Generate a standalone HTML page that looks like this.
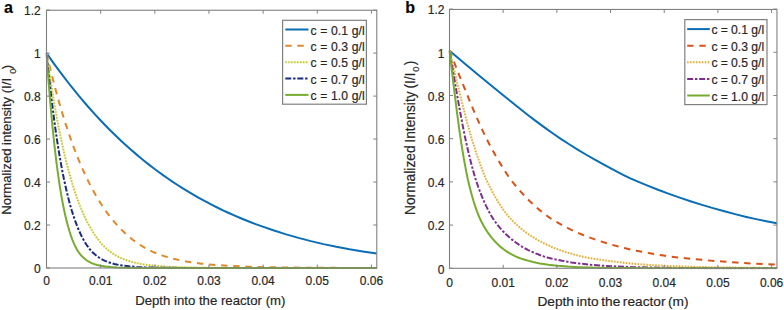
<!DOCTYPE html>
<html><head><meta charset="utf-8"><style>
html,body{margin:0;padding:0;background:#fff;}
svg{display:block;}
text{font-family:"Liberation Sans",sans-serif;fill:#262626;stroke:#262626;stroke-width:0.18px;}
.t{font-size:12px;}
.al{font-size:13.2px;}
.sub{font-size:9.3px;}
.lg{font-size:12.2px;word-spacing:0.3px;}
.lg2{font-size:12.2px;word-spacing:-0.2px;}
.pl{font-size:16px;font-weight:bold;fill:#000;}
</style></head><body>
<svg width="784" height="310" viewBox="0 0 784 310">
<rect width="784" height="310" fill="#fff"/>
<defs><clipPath id="ca"><rect x="45.5" y="10.120000000000005" width="331.315" height="258.88"/></clipPath>
<clipPath id="cb"><rect x="448.5" y="9.100000000000023" width="328.448" height="260.2"/></clipPath></defs>
<g clip-path="url(#ca)"><path d="M46.50,53.10 L54.43,64.33 L62.47,75.21 L70.62,85.75 L78.88,95.92 L87.25,105.74 L95.67,115.15 L99.96,119.76 L104.26,124.26 L108.61,128.70 L112.96,133.02 L117.36,137.27 L121.77,141.42 L126.23,145.50 L130.69,149.47 L135.20,153.38 L139.77,157.22 L144.34,160.95 L148.97,164.62 L153.65,168.23 L158.33,171.72 L163.07,175.15 L167.86,178.51 L172.70,181.81 L177.55,185.00 L182.45,188.12 L187.40,191.17 L192.41,194.16 L197.48,197.08 L202.60,199.93 L207.72,202.68 L212.95,205.39 L218.18,208.00 L223.47,210.54 L228.81,213.01 L234.21,215.42 L239.66,217.76 L245.16,220.03 L250.78,222.25 L256.34,224.36 L262.01,226.42 L274.01,230.53 L286.18,234.36 L298.46,237.90 L310.91,241.14 L323.52,244.11 L336.34,246.80 L349.45,249.24 L362.83,251.42 L376.81,253.40" fill="none" stroke="#0A6DB5" stroke-width="2"/>
<path d="M46.50,53.10 L48.87,63.19 L51.24,72.87 L53.60,82.17 L56.03,91.30 L58.45,100.05 L60.93,108.62 L63.40,116.82 L65.94,124.83 L68.52,132.64 L71.11,140.08 L73.76,147.33 L76.40,154.22 L79.10,160.91 L81.85,167.39 L84.60,173.53 L87.41,179.46 L90.27,185.17 L93.14,190.57 L96.06,195.76 L99.03,200.74 L102.06,205.50 L105.09,209.97 L108.22,214.30 L111.42,218.42 L114.67,222.33 L118.03,226.09 L121.60,229.80 L125.18,233.25 L128.76,236.45 L132.40,239.43 L136.09,242.20 L139.77,244.72 L142.97,246.71 L146.16,248.53 L149.47,250.24 L152.82,251.82 L156.46,253.34 L160.31,254.80 L164.28,256.15 L168.35,257.40 L172.54,258.54 L176.83,259.58 L181.35,260.54 L186.03,261.42 L190.87,262.22 L196.16,262.97 L201.61,263.64 L207.39,264.25 L219.23,265.25 L232.55,266.05 L247.59,266.68 L264.82,267.16 L284.42,267.50 L308.04,267.73 L337.45,267.87 L376.81,267.95" fill="none" stroke="#DE8A2A" stroke-width="2" stroke-dasharray="6.4 5.72" stroke-dashoffset="0.35"/>
<path d="M46.50,53.10 L49.69,75.21 L53.00,96.05 L54.65,105.74 L56.36,115.27 L58.06,124.32 L59.82,133.18 L61.59,141.57 L63.40,149.76 L65.22,157.50 L67.09,165.01 L68.97,172.08 L70.89,178.93 L72.82,185.35 L74.80,191.54 L76.84,197.48 L78.93,203.17 L81.02,208.45 L83.17,213.49 L85.37,218.26 L87.58,222.67 L89.83,226.83 L92.26,230.95 L94.68,234.73 L97.16,238.26 L99.69,241.52 L102.22,244.46 L104.81,247.14 L107.45,249.55 L110.15,251.71 L112.96,253.66 L115.33,255.12 L117.80,256.49 L120.34,257.74 L122.98,258.90 L125.73,259.96 L128.60,260.93 L131.57,261.81 L134.71,262.61 L138.07,263.34 L141.65,264.02 L145.39,264.62 L149.41,265.16 L153.65,265.64 L158.22,266.06 L168.30,266.75 L177.93,267.18 L189.16,267.49 L202.49,267.72 L219.06,267.86 L263.44,267.98 L376.81,268.00" fill="none" stroke="#F4F2AC" stroke-width="1.8"/>
<path d="M46.50,53.10 L49.69,75.21 L53.00,96.05 L54.65,105.74 L56.36,115.27 L58.06,124.32 L59.82,133.18 L61.59,141.57 L63.40,149.76 L65.22,157.50 L67.09,165.01 L68.97,172.08 L70.89,178.93 L72.82,185.35 L74.80,191.54 L76.84,197.48 L78.93,203.17 L81.02,208.45 L83.17,213.49 L85.37,218.26 L87.58,222.67 L89.83,226.83 L92.26,230.95 L94.68,234.73 L97.16,238.26 L99.69,241.52 L102.22,244.46 L104.81,247.14 L107.45,249.55 L110.15,251.71 L112.96,253.66 L115.33,255.12 L117.80,256.49 L120.34,257.74 L122.98,258.90 L125.73,259.96 L128.60,260.93 L131.57,261.81 L134.71,262.61 L138.07,263.34 L141.65,264.02 L145.39,264.62 L149.41,265.16 L153.65,265.64 L158.22,266.06 L168.30,266.75 L177.93,267.18 L189.16,267.49 L202.49,267.72 L219.06,267.86 L263.44,267.98 L376.81,268.00" fill="none" stroke="#C2C246" stroke-width="2" stroke-dasharray="1.3 1.65" stroke-dashoffset="0"/>
<path d="M46.50,53.10 L48.98,77.03 L51.51,99.14 L54.15,119.88 L56.85,138.79 L58.23,147.62 L59.60,155.94 L61.04,164.06 L62.47,171.68 L63.95,179.08 L65.44,185.99 L66.98,192.66 L68.52,198.87 L70.12,204.82 L71.77,210.51 L73.43,215.76 L75.13,220.73 L76.89,225.43 L78.71,229.86 L80.58,234.03 L82.51,237.93 L84.38,241.33 L86.31,244.47 L88.24,247.25 L90.22,249.77 L92.26,252.01 L94.46,254.09 L96.83,256.04 L99.25,257.74 L101.12,258.89 L103.05,259.94 L105.03,260.88 L107.12,261.75 L109.38,262.56 L111.75,263.30 L114.23,263.96 L116.87,264.56 L119.62,265.09 L122.60,265.57 L129.09,266.36 L136.58,266.96 L145.39,267.39 L153.26,267.62 L162.63,267.79 L188.94,267.96 L376.81,268.00" fill="none" stroke="#1A2A80" stroke-width="2" stroke-dasharray="6 1.8 2.4 1.8" stroke-dashoffset="-2"/>
<path d="M46.50,53.10 L48.37,78.83 L50.24,101.92 L52.23,123.75 L54.26,143.60 L56.36,161.53 L58.50,177.59 L59.60,185.00 L60.76,192.20 L61.92,198.87 L63.13,205.30 L64.34,211.21 L65.55,216.64 L66.82,221.82 L68.08,226.54 L69.46,231.22 L70.89,235.62 L72.32,239.57 L73.81,243.22 L75.24,246.32 L76.67,249.03 L78.16,251.46 L79.70,253.62 L81.46,255.75 L83.28,257.61 L85.21,259.28 L87.25,260.74 L88.68,261.61 L90.16,262.39 L91.76,263.13 L93.41,263.78 L95.17,264.38 L96.99,264.91 L101.07,265.83 L105.58,266.53 L110.81,267.07 L116.92,267.45 L124.30,267.71 L137.85,267.91 L159.93,267.99 L376.81,268.00" fill="none" stroke="#77AC30" stroke-width="2"/></g>
<rect x="46.50" y="10.25" width="330.31" height="257.75" fill="none" stroke="#808080" stroke-width="1.1"/>
<line x1="46.50" y1="268.00" x2="46.50" y2="264.50" stroke="#808080" stroke-width="1"/>
<line x1="46.50" y1="10.25" x2="46.50" y2="13.75" stroke="#808080" stroke-width="1"/>
<line x1="100.65" y1="268.00" x2="100.65" y2="264.50" stroke="#808080" stroke-width="1"/>
<line x1="100.65" y1="10.25" x2="100.65" y2="13.75" stroke="#808080" stroke-width="1"/>
<line x1="154.80" y1="268.00" x2="154.80" y2="264.50" stroke="#808080" stroke-width="1"/>
<line x1="154.80" y1="10.25" x2="154.80" y2="13.75" stroke="#808080" stroke-width="1"/>
<line x1="208.95" y1="268.00" x2="208.95" y2="264.50" stroke="#808080" stroke-width="1"/>
<line x1="208.95" y1="10.25" x2="208.95" y2="13.75" stroke="#808080" stroke-width="1"/>
<line x1="263.10" y1="268.00" x2="263.10" y2="264.50" stroke="#808080" stroke-width="1"/>
<line x1="263.10" y1="10.25" x2="263.10" y2="13.75" stroke="#808080" stroke-width="1"/>
<line x1="317.25" y1="268.00" x2="317.25" y2="264.50" stroke="#808080" stroke-width="1"/>
<line x1="317.25" y1="10.25" x2="317.25" y2="13.75" stroke="#808080" stroke-width="1"/>
<line x1="371.40" y1="268.00" x2="371.40" y2="264.50" stroke="#808080" stroke-width="1"/>
<line x1="371.40" y1="10.25" x2="371.40" y2="13.75" stroke="#808080" stroke-width="1"/>
<line x1="46.50" y1="268.00" x2="50.00" y2="268.00" stroke="#808080" stroke-width="1"/>
<line x1="376.81" y1="268.00" x2="373.31" y2="268.00" stroke="#808080" stroke-width="1"/>
<line x1="46.50" y1="225.02" x2="50.00" y2="225.02" stroke="#808080" stroke-width="1"/>
<line x1="376.81" y1="225.02" x2="373.31" y2="225.02" stroke="#808080" stroke-width="1"/>
<line x1="46.50" y1="182.04" x2="50.00" y2="182.04" stroke="#808080" stroke-width="1"/>
<line x1="376.81" y1="182.04" x2="373.31" y2="182.04" stroke="#808080" stroke-width="1"/>
<line x1="46.50" y1="139.06" x2="50.00" y2="139.06" stroke="#808080" stroke-width="1"/>
<line x1="376.81" y1="139.06" x2="373.31" y2="139.06" stroke="#808080" stroke-width="1"/>
<line x1="46.50" y1="96.08" x2="50.00" y2="96.08" stroke="#808080" stroke-width="1"/>
<line x1="376.81" y1="96.08" x2="373.31" y2="96.08" stroke="#808080" stroke-width="1"/>
<line x1="46.50" y1="53.10" x2="50.00" y2="53.10" stroke="#808080" stroke-width="1"/>
<line x1="376.81" y1="53.10" x2="373.31" y2="53.10" stroke="#808080" stroke-width="1"/>
<line x1="46.50" y1="10.12" x2="50.00" y2="10.12" stroke="#808080" stroke-width="1"/>
<line x1="376.81" y1="10.12" x2="373.31" y2="10.12" stroke="#808080" stroke-width="1"/>
<text x="40.80" y="273.20" text-anchor="end" class="t">0</text>
<text x="40.80" y="230.22" text-anchor="end" class="t">0.2</text>
<text x="40.80" y="187.24" text-anchor="end" class="t">0.4</text>
<text x="40.80" y="144.26" text-anchor="end" class="t">0.6</text>
<text x="40.80" y="101.28" text-anchor="end" class="t">0.8</text>
<text x="40.80" y="58.30" text-anchor="end" class="t">1</text>
<text x="40.80" y="15.32" text-anchor="end" class="t">1.2</text>
<text x="46.50" y="285.30" text-anchor="middle" class="t">0</text>
<text x="100.65" y="285.30" text-anchor="middle" class="t">0.01</text>
<text x="154.80" y="285.30" text-anchor="middle" class="t">0.02</text>
<text x="208.95" y="285.30" text-anchor="middle" class="t">0.03</text>
<text x="263.10" y="285.30" text-anchor="middle" class="t">0.04</text>
<text x="317.25" y="285.30" text-anchor="middle" class="t">0.05</text>
<text x="371.40" y="285.30" text-anchor="middle" class="t">0.06</text>
<g clip-path="url(#cb)"><path d="M449.50,50.79 L464.02,63.03 L478.70,75.25 L495.79,89.27 L511.23,101.83 L520.30,109.07 L528.16,115.21 L537.60,122.37 L545.79,128.42 L553.37,133.81 L560.80,138.85 L569.15,144.28 L577.61,149.57 L585.85,154.51 L594.37,159.42 L604.79,165.21 L614.07,170.19 L622.59,174.56 L630.34,178.29 L636.78,181.16 L646.38,185.15 L657.30,189.46 L668.38,193.60 L679.73,197.62 L691.25,201.48 L702.00,204.88 L713.03,208.15 L724.38,211.32 L736.01,214.36 L746.38,216.92 L754.95,218.86 L764.99,220.93 L776.95,223.22" fill="none" stroke="#0A6DB5" stroke-width="2"/>
<path d="M449.50,50.79 L458.78,74.12 L468.93,99.05 L474.66,112.76 L479.96,124.81 L484.60,134.79 L487.00,139.64 L489.51,144.53 L492.08,149.34 L494.70,154.06 L497.37,158.71 L500.15,163.38 L503.32,168.54 L505.94,172.66 L508.34,176.25 L510.58,179.39 L513.09,182.63 L516.42,186.70 L519.64,190.46 L522.86,194.04 L526.30,197.68 L529.85,201.25 L533.18,204.42 L536.62,207.52 L540.27,210.62 L544.04,213.62 L548.08,216.64 L551.13,218.74 L554.57,220.88 L558.67,223.23 L564.40,226.35 L569.31,228.85 L573.95,231.05 L578.70,233.16 L583.61,235.20 L588.69,237.17 L594.20,239.17 L599.99,241.12 L606.05,243.03 L612.32,244.87 L618.33,246.52 L624.33,248.04 L630.23,249.41 L636.45,250.73 L642.78,251.97 L649.71,253.23 L656.92,254.47 L663.69,255.54 L669.75,256.42 L675.59,257.19 L687.76,258.53 L707.74,260.36 L725.75,261.79 L736.77,262.60 L753.26,263.60 L776.95,264.69" fill="none" stroke="#D95319" stroke-width="2" stroke-dasharray="6.4 5.72" stroke-dashoffset="0.35"/>
<path d="M449.50,50.79 L455.67,76.60 L462.55,104.64 L466.31,119.33 L469.91,132.55 L471.66,138.52 L473.57,144.74 L475.48,150.67 L477.45,156.49 L479.58,162.51 L482.30,169.91 L484.22,174.81 L485.91,178.84 L488.04,183.43 L490.71,188.78 L493.33,193.70 L496.01,198.41 L498.63,202.73 L501.19,206.67 L503.87,210.48 L506.65,214.16 L509.11,217.19 L511.34,219.66 L513.91,222.20 L517.62,225.62 L520.62,228.22 L523.73,230.72 L526.95,233.12 L530.34,235.45 L534.10,237.84 L538.09,240.18 L542.24,242.42 L546.66,244.62 L550.92,246.57 L555.12,248.33 L559.27,249.89 L563.80,251.44 L569.09,253.08 L574.82,254.71 L579.85,256.00 L584.65,257.09 L589.13,257.96 L594.64,258.89 L601.57,259.95 L608.99,260.97 L622.97,262.73 L628.48,263.30 L634.21,263.81 L643.87,264.54 L652.22,265.09 L661.56,265.61 L671.49,266.07 L691.96,266.77 L715.65,267.32 L743.43,267.72 L776.95,267.99" fill="none" stroke="#FBEFC4" stroke-width="1.8"/>
<path d="M449.50,50.79 L455.67,76.60 L462.55,104.64 L466.31,119.33 L469.91,132.55 L471.66,138.52 L473.57,144.74 L475.48,150.67 L477.45,156.49 L479.58,162.51 L482.30,169.91 L484.22,174.81 L485.91,178.84 L488.04,183.43 L490.71,188.78 L493.33,193.70 L496.01,198.41 L498.63,202.73 L501.19,206.67 L503.87,210.48 L506.65,214.16 L509.11,217.19 L511.34,219.66 L513.91,222.20 L517.62,225.62 L520.62,228.22 L523.73,230.72 L526.95,233.12 L530.34,235.45 L534.10,237.84 L538.09,240.18 L542.24,242.42 L546.66,244.62 L550.92,246.57 L555.12,248.33 L559.27,249.89 L563.80,251.44 L569.09,253.08 L574.82,254.71 L579.85,256.00 L584.65,257.09 L589.13,257.96 L594.64,258.89 L601.57,259.95 L608.99,260.97 L622.97,262.73 L628.48,263.30 L634.21,263.81 L643.87,264.54 L652.22,265.09 L661.56,265.61 L671.49,266.07 L691.96,266.77 L715.65,267.32 L743.43,267.72 L776.95,267.99" fill="none" stroke="#DDAA40" stroke-width="2" stroke-dasharray="1.3 1.65" stroke-dashoffset="0"/>
<path d="M449.50,50.79 L454.14,77.95 L459.27,107.17 L462.38,123.92 L464.89,136.47 L466.64,144.49 L468.39,152.05 L470.19,159.39 L472.21,167.19 L473.79,173.02 L475.21,177.88 L476.36,181.46 L478.21,186.79 L480.12,191.93 L482.09,196.89 L484.11,201.64 L486.07,205.93 L488.15,210.12 L490.33,214.18 L492.29,217.54 L494.20,220.42 L496.77,223.85 L499.99,227.86 L502.77,230.99 L505.67,233.95 L508.78,236.84 L512.05,239.60 L515.49,242.24 L519.20,244.82 L522.26,246.77 L525.26,248.50 L528.26,250.07 L531.54,251.62 L535.69,253.39 L539.89,255.03 L543.66,256.35 L547.26,257.44 L551.52,258.51 L557.79,259.89 L563.36,260.96 L571.33,262.39 L575.64,263.06 L579.68,263.60 L591.75,264.87 L604.03,265.82 L617.95,266.57 L633.88,267.16 L652.44,267.60 L673.68,267.90 L699.06,268.10 L731.37,268.22 L776.95,268.28" fill="none" stroke="#7E2F8E" stroke-width="2" stroke-dasharray="6 1.8 2.4 1.8" stroke-dashoffset="-2"/>
<path d="M449.50,50.79 L453.05,80.43 L456.87,111.35 L459.27,129.44 L461.24,142.81 L462.55,151.00 L463.91,158.99 L465.60,168.31 L466.97,175.34 L467.95,179.95 L469.15,184.99 L470.57,190.56 L471.99,195.76 L473.68,201.50 L475.32,206.59 L477.01,211.37 L478.81,216.01 L480.01,218.79 L481.43,221.68 L483.78,226.01 L485.63,229.16 L487.76,232.44 L490.06,235.63 L492.46,238.63 L495.02,241.53 L497.81,244.36 L500.59,246.90 L503.27,249.07 L506.10,251.08 L509.00,252.90 L512.22,254.74 L515.00,256.16 L517.62,257.31 L520.51,258.38 L524.77,259.73 L527.94,260.62 L533.12,261.98 L536.56,262.80 L539.73,263.44 L543.44,264.06 L548.41,264.78 L552.77,265.31 L557.41,265.79 L567.67,266.59 L578.37,267.15 L590.71,267.58 L605.39,267.88 L622.91,268.09 L669.20,268.26 L776.95,268.30" fill="none" stroke="#77AC30" stroke-width="2"/></g>
<rect x="449.50" y="9.45" width="327.45" height="258.85" fill="none" stroke="#808080" stroke-width="1.1"/>
<line x1="449.50" y1="268.30" x2="449.50" y2="264.80" stroke="#808080" stroke-width="1"/>
<line x1="449.50" y1="9.45" x2="449.50" y2="12.95" stroke="#808080" stroke-width="1"/>
<line x1="503.18" y1="268.30" x2="503.18" y2="264.80" stroke="#808080" stroke-width="1"/>
<line x1="503.18" y1="9.45" x2="503.18" y2="12.95" stroke="#808080" stroke-width="1"/>
<line x1="556.86" y1="268.30" x2="556.86" y2="264.80" stroke="#808080" stroke-width="1"/>
<line x1="556.86" y1="9.45" x2="556.86" y2="12.95" stroke="#808080" stroke-width="1"/>
<line x1="610.54" y1="268.30" x2="610.54" y2="264.80" stroke="#808080" stroke-width="1"/>
<line x1="610.54" y1="9.45" x2="610.54" y2="12.95" stroke="#808080" stroke-width="1"/>
<line x1="664.22" y1="268.30" x2="664.22" y2="264.80" stroke="#808080" stroke-width="1"/>
<line x1="664.22" y1="9.45" x2="664.22" y2="12.95" stroke="#808080" stroke-width="1"/>
<line x1="717.90" y1="268.30" x2="717.90" y2="264.80" stroke="#808080" stroke-width="1"/>
<line x1="717.90" y1="9.45" x2="717.90" y2="12.95" stroke="#808080" stroke-width="1"/>
<line x1="771.58" y1="268.30" x2="771.58" y2="264.80" stroke="#808080" stroke-width="1"/>
<line x1="771.58" y1="9.45" x2="771.58" y2="12.95" stroke="#808080" stroke-width="1"/>
<line x1="449.50" y1="268.30" x2="453.00" y2="268.30" stroke="#808080" stroke-width="1"/>
<line x1="776.95" y1="268.30" x2="773.45" y2="268.30" stroke="#808080" stroke-width="1"/>
<line x1="449.50" y1="225.10" x2="453.00" y2="225.10" stroke="#808080" stroke-width="1"/>
<line x1="776.95" y1="225.10" x2="773.45" y2="225.10" stroke="#808080" stroke-width="1"/>
<line x1="449.50" y1="181.90" x2="453.00" y2="181.90" stroke="#808080" stroke-width="1"/>
<line x1="776.95" y1="181.90" x2="773.45" y2="181.90" stroke="#808080" stroke-width="1"/>
<line x1="449.50" y1="138.70" x2="453.00" y2="138.70" stroke="#808080" stroke-width="1"/>
<line x1="776.95" y1="138.70" x2="773.45" y2="138.70" stroke="#808080" stroke-width="1"/>
<line x1="449.50" y1="95.50" x2="453.00" y2="95.50" stroke="#808080" stroke-width="1"/>
<line x1="776.95" y1="95.50" x2="773.45" y2="95.50" stroke="#808080" stroke-width="1"/>
<line x1="449.50" y1="52.30" x2="453.00" y2="52.30" stroke="#808080" stroke-width="1"/>
<line x1="776.95" y1="52.30" x2="773.45" y2="52.30" stroke="#808080" stroke-width="1"/>
<line x1="449.50" y1="9.10" x2="453.00" y2="9.10" stroke="#808080" stroke-width="1"/>
<line x1="776.95" y1="9.10" x2="773.45" y2="9.10" stroke="#808080" stroke-width="1"/>
<text x="444.40" y="273.50" text-anchor="end" class="t">0</text>
<text x="444.40" y="230.30" text-anchor="end" class="t">0.2</text>
<text x="444.40" y="187.10" text-anchor="end" class="t">0.4</text>
<text x="444.40" y="143.90" text-anchor="end" class="t">0.6</text>
<text x="444.40" y="100.70" text-anchor="end" class="t">0.8</text>
<text x="444.40" y="57.50" text-anchor="end" class="t">1</text>
<text x="444.40" y="14.30" text-anchor="end" class="t">1.2</text>
<text x="449.50" y="286.50" text-anchor="middle" class="t">0</text>
<text x="503.18" y="286.50" text-anchor="middle" class="t">0.01</text>
<text x="556.86" y="286.50" text-anchor="middle" class="t">0.02</text>
<text x="610.54" y="286.50" text-anchor="middle" class="t">0.03</text>
<text x="664.22" y="286.50" text-anchor="middle" class="t">0.04</text>
<text x="717.90" y="286.50" text-anchor="middle" class="t">0.05</text>
<text x="771.58" y="286.50" text-anchor="middle" class="t">0.06</text>
<rect x="282.6" y="20.3" width="83.79999999999995" height="83.9" fill="#fff" stroke="#808080" stroke-width="1.2"/>
<line x1="285.3" y1="29.5" x2="308.5" y2="29.5" stroke="#0A6DB5" stroke-width="2"/>
<text x="310.5" y="34.60" class="lg">c = 0.1 g/l</text>
<line x1="285.3" y1="45.85" x2="308.5" y2="45.85" stroke="#DE8A2A" stroke-width="2" stroke-dasharray="6.4 5.72"/>
<text x="310.5" y="50.95" class="lg">c = 0.3 g/l</text>
<line x1="285.3" y1="62.2" x2="308.5" y2="62.2" stroke="#F4F2AC" stroke-width="1.8"/>
<line x1="285.3" y1="62.2" x2="308.5" y2="62.2" stroke="#C2C246" stroke-width="2" stroke-dasharray="1.3 1.65"/>
<text x="310.5" y="67.30" class="lg">c = 0.5 g/l</text>
<line x1="285.3" y1="78.55000000000001" x2="308.5" y2="78.55000000000001" stroke="#1A2A80" stroke-width="2" stroke-dasharray="6 1.8 2.4 1.8"/>
<text x="310.5" y="83.65" class="lg">c = 0.7 g/l</text>
<line x1="285.3" y1="94.9" x2="308.5" y2="94.9" stroke="#77AC30" stroke-width="2"/>
<text x="310.5" y="100.00" class="lg">c = 1.0 g/l</text>
<rect x="684.8" y="19.6" width="82.20000000000005" height="85.0" fill="#fff" stroke="#808080" stroke-width="1.2"/>
<line x1="687.2" y1="29.1" x2="709.8" y2="29.1" stroke="#0A6DB5" stroke-width="2"/>
<text x="711.5" y="34.20" class="lg2">c = 0.1 g/l</text>
<line x1="687.2" y1="45.7" x2="709.8" y2="45.7" stroke="#D95319" stroke-width="2" stroke-dasharray="6.4 5.72"/>
<text x="711.5" y="50.80" class="lg2">c = 0.3 g/l</text>
<line x1="687.2" y1="62.300000000000004" x2="709.8" y2="62.300000000000004" stroke="#FBEFC4" stroke-width="1.8"/>
<line x1="687.2" y1="62.300000000000004" x2="709.8" y2="62.300000000000004" stroke="#DDAA40" stroke-width="2" stroke-dasharray="1.3 1.65"/>
<text x="711.5" y="67.40" class="lg2">c = 0.5 g/l</text>
<line x1="687.2" y1="78.9" x2="709.8" y2="78.9" stroke="#7E2F8E" stroke-width="2" stroke-dasharray="6 1.8 2.4 1.8"/>
<text x="711.5" y="84.00" class="lg2">c = 0.7 g/l</text>
<line x1="687.2" y1="95.5" x2="709.8" y2="95.5" stroke="#77AC30" stroke-width="2"/>
<text x="711.5" y="100.60" class="lg2">c = 1.0 g/l</text>
<text x="210.3" y="305.3" text-anchor="middle" class="al">Depth into the reactor (m)</text>
<text x="613" y="305.8" text-anchor="middle" class="al" style="font-size:13.7px;word-spacing:-1.2px">Depth into the reactor (m)</text>
<text transform="translate(11.2,139.8) rotate(-90)" text-anchor="middle" class="al" style="font-size:13.1px">Normalized intensity (I/I<tspan class="sub" dx="4.2" dy="4.5">0</tspan><tspan dx="-0.6" dy="-4.5">)</tspan></text>
<text transform="translate(414.8,137.8) rotate(-90)" text-anchor="middle" class="al" style="font-size:13.75px;word-spacing:-1px">Normalized Intensity (I/I<tspan class="sub" dx="0.9" dy="4.5">0</tspan><tspan dx="1.3" dy="-4.5">)</tspan></text>
<text x="3.9" y="12.7" class="pl">a</text>
<text x="405.2" y="12.8" class="pl">b</text>
</svg>
</body></html>
